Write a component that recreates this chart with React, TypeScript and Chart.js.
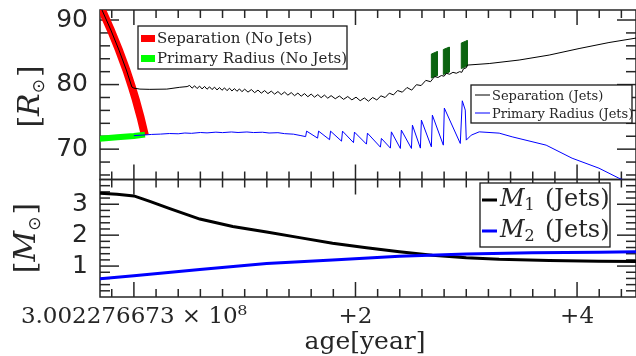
import React, { useEffect, useRef } from 'react';
import { Chart, registerables } from 'chart.js';

Chart.register(...registerables);

// ---- axis ranges (age is an offset in years from the first tick) ----
const AGE_MIN = -0.306;
const AGE_MAX = 4.532;
const R_MIN = 65.3;
const R_MAX = 91.55;
const M_MIN = 0;
const M_MAX = 3.8;

const AGE_TICKS = [0, 2, 4];
const AGE_TICK_LABELS = ['3.002276673 × 10⁸', '+2', '+4'];
const R_TICKS = [70, 80, 90];
const M_TICKS = [1, 2, 3];

// ---- no-jets run ----
const SEP_NOJETS_AGE = [-0.314, -0.288, -0.208, -0.135, -0.068, -0.018, 0.018, 0.06, 0.099];
const SEP_NOJETS_R = [92.48, 91.55, 88.45, 85.35, 82.25, 79.61, 77.6, 74.96, 72.17];
const RAD_NOJETS_AGE = [-0.31, -0.15, 0.0, 0.1];
const RAD_NOJETS_R = [71.6, 71.85, 72.05, 72.25];

// ---- jets run: orbital separation ----
const SEP_JETS_AGE = [
  -0.314, -0.288, -0.208, -0.135, -0.068, -0.018, 0.0, 0.054, 0.144, 0.297, 0.414, 0.48,
  0.503, 0.525, 0.548, 0.57, 0.593, 0.615, 0.638, 0.66, 0.683, 0.705, 0.728, 0.75,
  0.773, 0.795, 0.818, 0.84, 0.863, 0.885, 0.908, 0.93, 0.953, 0.975, 1.0,
  1.03, 1.06, 1.09, 1.12, 1.15, 1.18, 1.21, 1.24, 1.27, 1.3, 1.33, 1.36, 1.39,
  1.42, 1.45, 1.48, 1.51, 1.54, 1.57, 1.6, 1.63, 1.66, 1.69, 1.72, 1.75, 1.78,
  1.8175, 1.855, 1.8925, 1.93, 1.9675, 2.005, 2.0425, 2.08, 2.1175, 2.155, 2.1925,
  2.23, 2.2675, 2.305, 2.3425, 2.38,
  2.4225, 2.465, 2.5075, 2.55, 2.5925, 2.635, 2.6775, 2.7,
  2.715, 2.745, 2.775, 2.8, 2.82, 2.85, 2.88, 2.91, 2.94, 2.96, 2.975, 3.0, 3.01,
  3.207, 3.477, 3.748, 4.018, 4.288, 4.55,
];
const SEP_JETS_R = [
  92.48, 91.55, 88.45, 85.35, 82.25, 79.61, 79.45, 79.3, 79.26, 79.3, 79.58, 79.69,
  79.87, 79.44, 79.81, 79.39, 79.76, 79.33, 79.71, 79.28, 79.65, 79.23, 79.6, 79.17,
  79.54, 79.12, 79.49, 79.06, 79.44, 79.01, 79.38, 78.96, 79.33, 78.9, 79.29,
  78.83, 79.23, 78.75, 79.15, 78.67, 79.07, 78.6, 78.99, 78.52, 78.92, 78.44, 78.84, 78.36,
  78.76, 78.28, 78.68, 78.2, 78.6, 78.12, 78.53, 78.05, 78.45, 77.97, 78.37, 77.89, 78.29,
  77.81, 78.23, 77.71, 78.15, 77.63, 78.05, 77.5, 77.93, 77.43, 78.0, 77.62,
  78.26, 77.99, 78.67, 78.4, 79.08,
  78.82, 79.55, 79.14, 79.98, 79.85, 80.65, 80.45, 80.95,
  81.25, 81.1, 81.4, 81.3, 81.75, 81.6, 81.9, 81.75, 82.0, 81.9, 82.45, 82.6, 83.02,
  83.26, 83.8, 84.57, 85.58, 86.51, 87.25,
];

// ---- jets run: primary radius ----
const RAD_JETS_AGE = [
  0.0, 0.08, 0.16, 0.24, 0.32, 0.4, 0.46, 0.52, 0.6, 0.66, 0.74, 0.8, 0.88, 0.94,
  1.02, 1.08, 1.16, 1.22, 1.3, 1.36, 1.44, 1.5,
  1.55, 1.559, 1.658, 1.667, 1.766, 1.775, 1.874, 1.883, 1.982, 1.991, 2.099, 2.108,
  2.225, 2.234, 2.315, 2.324, 2.405, 2.414, 2.505, 2.514, 2.586, 2.595, 2.685, 2.694,
  2.793, 2.802, 2.946, 2.964, 2.991, 3.0,
  3.045, 3.117, 3.297, 3.414, 3.721, 3.955, 4.198, 4.378, 4.559,
];
const RAD_JETS_R = [
  72.09, 72.18, 72.28, 72.33, 72.42, 72.38, 72.5, 72.45, 72.58, 72.52, 72.63, 72.56, 72.66, 72.58,
  72.66, 72.57, 72.62, 72.5, 72.55, 72.4, 72.32, 72.12,
  71.94, 72.79, 71.71, 72.79, 71.47, 72.79, 71.24, 72.79, 71.01, 72.64, 70.78, 72.48,
  70.31, 71.66, 70.16, 72.68, 70.11, 72.95, 70.11, 73.72, 70.16, 74.5, 70.36, 75.27,
  70.62, 76.36, 70.88, 77.49, 76.05, 71.4,
  72.17, 72.68, 72.48, 71.91, 70.62, 68.6, 67.05, 65.5, 64.26,
];

// ---- jet episodes (left and right edges of each marker) ----
const JET_AGE_LEFT = [2.685, 2.793, 2.955];
const JET_AGE_RIGHT = [2.739, 2.847, 3.009];
const JET_R_LOW_LEFT = [81.01, 81.55, 82.48];
const JET_R_HIGH_LEFT = [84.73, 85.43, 86.43];
const JET_R_LOW_RIGHT = [81.4, 81.94, 82.87];
const JET_R_HIGH_RIGHT = [85.12, 85.81, 86.82];

// ---- masses (jets run) ----
const M1_AGE = [-0.306, -0.153, 0.0, 0.144, 0.324, 0.595, 0.892, 1.198, 1.495, 1.793, 2.099, 2.396, 2.694, 3.0, 3.297, 3.748, 4.198, 4.55];
const M1_VAL = [3.358, 3.32, 3.27, 3.09, 2.86, 2.52, 2.28, 2.1, 1.92, 1.74, 1.59, 1.46, 1.35, 1.27, 1.22, 1.18, 1.16, 1.15];
const M2_AGE = [-0.306, 0.0, 0.595, 1.198, 1.793, 2.396, 3.0, 3.595, 4.198, 4.55];
const M2_VAL = [0.59, 0.69, 0.89, 1.08, 1.2, 1.32, 1.39, 1.43, 1.45, 1.46];

// ---- legend texts ----
const LEGEND_NOJETS = ['Separation (No Jets)', 'Primary Radius (No Jets)'];
const LEGEND_JETS = ['Separation (Jets)', 'Primary Radius (Jets)'];
const LEGEND_MASS_SUB = ['1', '2'];
const LEGEND_MASS_TAIL = '(Jets)';

const TEXT_COLOR = '#262626';
const AXIS_COLOR = '#262626';
const SERIF = "'DejaVu Serif', serif";
const SANS = "'DejaVu Sans', sans-serif";
const RED = '#ff0000';
const GREEN = '#00ff00';
const BLUE = '#0000ff';
const JET_GREEN = '#0b6410';

type Pt = { x: number; y: number };
const zip = (xs: number[], ys: number[]): Pt[] => xs.map((x, i) => ({ x, y: ys[i] }));

function jetShape(i: number): Pt[] {
  return [
    { x: JET_AGE_LEFT[i], y: JET_R_LOW_LEFT[i] },
    { x: JET_AGE_LEFT[i], y: JET_R_HIGH_LEFT[i] },
    { x: JET_AGE_RIGHT[i], y: JET_R_HIGH_RIGHT[i] },
    { x: JET_AGE_RIGHT[i], y: JET_R_LOW_RIGHT[i] },
    { x: JET_AGE_LEFT[i], y: JET_R_LOW_LEFT[i] },
  ];
}

// clip each dataset to its own panel
const panelClip = {
  id: 'panelClip',
  beforeDatasetDraw(chart: any, args: any) {
    const ds = chart.data.datasets[args.index];
    const ys = chart.scales[ds.yAxisID];
    const xs = chart.scales.x;
    const ctx = chart.ctx;
    ctx.save();
    ctx.beginPath();
    ctx.rect(xs.left, ys.top, xs.right - xs.left, ys.bottom - ys.top);
    ctx.clip();
  },
  afterDatasetDraw(chart: any) {
    chart.ctx.restore();
  },
};

function line(ctx: CanvasRenderingContext2D, x1: number, y1: number, x2: number, y2: number) {
  ctx.beginPath();
  ctx.moveTo(x1, y1);
  ctx.lineTo(x2, y2);
  ctx.stroke();
}

// boxed panels with inward ticks on all four sides
const panelFrames = {
  id: 'panelFrames',
  beforeDatasetsDraw(chart: any) {
    const ctx: CanvasRenderingContext2D = chart.ctx;
    const xs = chart.scales.x;
    const left = xs.left;
    const right = xs.right;
    ctx.save();
    ctx.strokeStyle = AXIS_COLOR;
    ctx.lineWidth = 1.5;
    const panels = [
      { s: chart.scales.yR, step: 2, every: 5 },
      { s: chart.scales.yM, step: 0.2, every: 5 },
    ];
    for (const p of panels) {
      const top = p.s.top;
      const bottom = p.s.bottom;
      ctx.strokeRect(left, top, right - left, bottom - top);
      for (let k = Math.ceil(AGE_MIN / 0.2); k <= Math.floor(AGE_MAX / 0.2); k++) {
        const px = xs.getPixelForValue(k * 0.2);
        if (px <= left + 1 || px >= right - 1) continue;
        const len = k % 10 === 0 ? 15 : 8;
        line(ctx, px, top, px, top + len);
        line(ctx, px, bottom, px, bottom - len);
      }
      const min = p.s.min;
      const max = p.s.max;
      for (let k = Math.ceil(min / p.step - 1e-6); k <= Math.floor(max / p.step + 1e-6); k++) {
        const py = p.s.getPixelForValue(k * p.step);
        if (py <= top + 1 || py >= bottom - 1) continue;
        const len = k % p.every === 0 ? 19 : 10;
        line(ctx, left, py, left + len, py);
        line(ctx, right, py, right - len, py);
      }
    }
    ctx.restore();
  },
};

function drawUnitTitle(ctx: CanvasRenderingContext2D, cx: number, cy: number, symbol: string) {
  ctx.save();
  ctx.translate(cx, cy);
  ctx.rotate(-Math.PI / 2);
  ctx.fillStyle = TEXT_COLOR;
  ctx.textAlign = 'left';
  ctx.textBaseline = 'alphabetic';
  const br = `30px ${SERIF}`;
  const it = `italic 30px ${SERIF}`;
  const sub = `17px ${SANS}`;
  ctx.font = br;
  const wL = ctx.measureText('[').width;
  const wR = ctx.measureText(']').width;
  ctx.font = it;
  const wS = ctx.measureText(symbol).width;
  ctx.font = sub;
  const wSub = ctx.measureText('⊙').width;
  const total = wL + wS + wSub + 2 + wR;
  let u = -total / 2;
  const base = 10;
  ctx.font = br;
  ctx.fillText('[', u, base);
  u += wL;
  ctx.font = it;
  ctx.fillText(symbol, u, base);
  u += wS;
  ctx.font = sub;
  ctx.fillText('⊙', u, base + 5);
  u += wSub + 2;
  ctx.font = br;
  ctx.fillText(']', u, base);
  ctx.restore();
}

function legendBox(ctx: CanvasRenderingContext2D, x: number, y: number, w: number, h: number) {
  ctx.fillStyle = '#ffffff';
  ctx.fillRect(x, y, w, h);
  ctx.strokeStyle = '#1a1a1a';
  ctx.lineWidth = 1.3;
  ctx.strokeRect(x, y, w, h);
}

const annotations = {
  id: 'annotations',
  afterDraw(chart: any) {
    const ctx: CanvasRenderingContext2D = chart.ctx;
    ctx.save();

    // unit titles and x title
    drawUnitTitle(ctx, 29, 96.5, 'R');
    drawUnitTitle(ctx, 25, 238, 'M');
    ctx.fillStyle = TEXT_COLOR;
    ctx.font = `25px ${SERIF}`;
    ctx.textAlign = 'center';
    ctx.textBaseline = 'alphabetic';
    ctx.fillText('age[year]', 365, 349);

    // no-jets legend
    legendBox(ctx, 138, 26, 209, 43);
    ctx.lineCap = 'butt';
    ctx.lineWidth = 7;
    ctx.strokeStyle = RED;
    line(ctx, 141, 38.5, 155, 38.5);
    ctx.strokeStyle = GREEN;
    line(ctx, 141, 58.5, 155, 58.5);
    ctx.fillStyle = TEXT_COLOR;
    ctx.font = `15px ${SERIF}`;
    ctx.textAlign = 'left';
    ctx.fillText(LEGEND_NOJETS[0], 157, 42.5);
    ctx.fillText(LEGEND_NOJETS[1], 157, 62.5);

    // jets legend (top panel)
    legendBox(ctx, 471, 85, 161, 38);
    ctx.lineWidth = 1;
    ctx.strokeStyle = '#000000';
    line(ctx, 475, 95, 490, 95);
    ctx.strokeStyle = BLUE;
    line(ctx, 475, 113, 490, 113);
    ctx.fillStyle = TEXT_COLOR;
    ctx.font = `13px ${SERIF}`;
    ctx.fillText(LEGEND_JETS[0], 492, 99.5);
    ctx.fillText(LEGEND_JETS[1], 492, 117.5);

    // mass legend
    legendBox(ctx, 480, 183, 130, 64);
    ctx.lineWidth = 3;
    const rows = [
      { y: 200, base: 205.5, color: '#000000' },
      { y: 231, base: 236.5, color: BLUE },
    ];
    rows.forEach((r, i) => {
      ctx.strokeStyle = r.color;
      line(ctx, 482, r.y, 497, r.y);
      ctx.fillStyle = TEXT_COLOR;
      ctx.font = `italic 24px ${SERIF}`;
      ctx.fillText('M', 500, r.base);
      const wM = ctx.measureText('M').width;
      ctx.font = `16px ${SERIF}`;
      ctx.fillText(LEGEND_MASS_SUB[i], 500 + wM, r.base + 4);
      ctx.font = `24px ${SERIF}`;
      ctx.fillText(LEGEND_MASS_TAIL, 545, r.base);
    });

    ctx.restore();
  },
};

const common = { pointRadius: 0, pointHoverRadius: 0, tension: 0, fill: false };

const noPadding = (s: any) => {
  s.paddingTop = 0;
  s.paddingBottom = 0;
  s.paddingLeft = 0;
  s.paddingRight = 0;
};

export default function App() {
  const ref = useRef<HTMLCanvasElement>(null);

  useEffect(() => {
    const canvas = ref.current;
    if (!canvas) return;

    const datasets: any[] = [
      { ...common, label: 'M2 (Jets)', data: zip(M2_AGE, M2_VAL), yAxisID: 'yM', borderColor: BLUE, borderWidth: 3 },
      { ...common, label: 'M1 (Jets)', data: zip(M1_AGE, M1_VAL), yAxisID: 'yM', borderColor: '#000000', borderWidth: 3 },
      { ...common, label: 'Primary Radius (Jets)', data: zip(RAD_JETS_AGE, RAD_JETS_R), yAxisID: 'yR', borderColor: BLUE, borderWidth: 1 },
      { ...common, label: 'Separation (Jets)', data: zip(SEP_JETS_AGE, SEP_JETS_R), yAxisID: 'yR', borderColor: '#000000', borderWidth: 1 },
      ...[0, 1, 2].map((i) => ({
        ...common,
        label: `jet ${i + 1}`,
        data: jetShape(i),
        yAxisID: 'yR',
        borderColor: JET_GREEN,
        backgroundColor: JET_GREEN,
        borderWidth: 1,
        fill: 'shape',
      })),
      { ...common, label: 'Primary Radius (No Jets)', data: zip(RAD_NOJETS_AGE, RAD_NOJETS_R), yAxisID: 'yR', borderColor: GREEN, borderWidth: 6, borderCapStyle: 'butt' },
      { ...common, label: 'Separation (No Jets)', data: zip(SEP_NOJETS_AGE, SEP_NOJETS_R), yAxisID: 'yR', borderColor: RED, borderWidth: 8, borderCapStyle: 'butt' },
    ];

    const chart = new Chart(canvas, {
      type: 'line',
      data: { datasets },
      options: {
        animation: false,
        responsive: false,
        devicePixelRatio: 1,
        events: [],
        layout: { padding: { top: 10, right: -1, bottom: 0, left: 0 } },
        plugins: { legend: { display: false }, tooltip: { enabled: false } },
        scales: {
          x: {
            type: 'linear',
            position: 'bottom',
            min: AGE_MIN,
            max: AGE_MAX,
            grid: { display: false, drawTicks: false },
            border: { display: false },
            afterBuildTicks: (s: any) => {
              s.ticks = AGE_TICKS.map((v) => ({ value: v }));
            },
            afterFit: (s: any) => {
              s.height = 59;
              noPadding(s);
            },
            ticks: {
              autoSkip: false,
              maxRotation: 0,
              minRotation: 0,
              padding: 6,
              color: TEXT_COLOR,
              font: { family: SERIF, size: 23 },
              callback: (v: any) => {
                const i = AGE_TICKS.indexOf(Number(v));
                return i >= 0 ? AGE_TICK_LABELS[i] : '';
              },
            },
          },
          yR: {
            type: 'linear',
            position: 'left',
            stack: 'panels',
            stackWeight: 169.5,
            weight: 2,
            min: R_MIN,
            max: R_MAX,
            grid: { display: false, drawTicks: false },
            border: { display: false },
            afterBuildTicks: (s: any) => {
              s.ticks = R_TICKS.map((v) => ({ value: v }));
            },
            afterFit: (s: any) => {
              s.width = 100;
              noPadding(s);
            },
            ticks: { padding: 12, color: TEXT_COLOR, font: { family: SANS, size: 25 } },
          },
          yM: {
            type: 'linear',
            position: 'left',
            stack: 'panels',
            stackWeight: 117.5,
            weight: 1,
            min: M_MIN,
            max: M_MAX,
            grid: { display: false, drawTicks: false },
            border: { display: false },
            afterBuildTicks: (s: any) => {
              s.ticks = M_TICKS.map((v) => ({ value: v }));
            },
            afterFit: (s: any) => {
              s.width = 100;
              noPadding(s);
            },
            ticks: { padding: 12, color: TEXT_COLOR, font: { family: SANS, size: 25 } },
          },
        },
      } as any,
      plugins: [panelFrames, panelClip, annotations],
    });

    return () => chart.destroy();
  }, []);

  return (
    <div style={{ position: 'absolute', left: 0, top: 0, width: 636, height: 356, background: '#ffffff' }}>
      <canvas ref={ref} width={636} height={356} style={{ display: 'block' }} />
    </div>
  );
}
